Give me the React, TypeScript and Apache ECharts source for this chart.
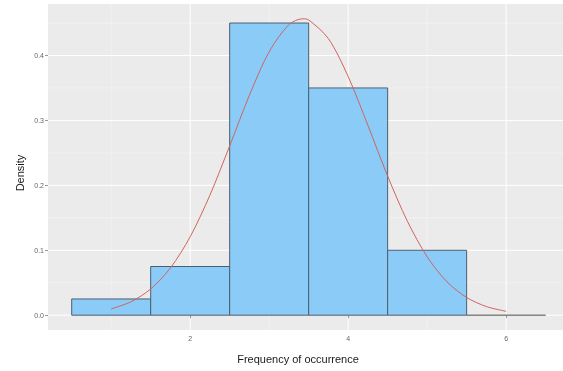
import React, { useEffect, useRef } from "react";
import * as echarts from "echarts";

// Histogram bins (left edge, right edge) and density per bin
const binStart = [0.5, 1.5, 2.5, 3.5, 4.5, 5.5];
const binEnd = [1.5, 2.5, 3.5, 4.5, 5.5, 6.5];
const binDensity = [0.025, 0.075, 0.45, 0.35, 0.1, 0];

// Fitted normal density curve
const curveX = [1, 1.25, 1.5, 1.75, 2, 2.25, 2.5, 2.75, 3, 3.25, 3.425, 3.5, 3.75, 4, 4.25, 4.5, 4.75, 5, 5.25, 5.5, 5.75, 6];
const curveY = [0.0097, 0.0206, 0.0404, 0.0728, 0.1208, 0.1849, 0.2607, 0.3388, 0.4056, 0.4474, 0.4565, 0.4548, 0.426, 0.3676, 0.2924, 0.2142, 0.1447, 0.09, 0.0516, 0.0273, 0.0133, 0.006];

// Axis breaks
const xMajor = [2, 4, 6];
const xMinor = [1, 3, 5];
const yMajor = [0, 0.1, 0.2, 0.3, 0.4];
const yMinor = [0.05, 0.15, 0.25, 0.35, 0.45];

const FONT = "Liberation Sans, Arial, sans-serif";

export default function App() {
  const ref = useRef<HTMLDivElement>(null);

  useEffect(() => {
    if (!ref.current) return;
    const chart = echarts.init(ref.current, undefined, { renderer: "svg" });

    const bins = binStart.map((s, i) => [s, binEnd[i], binDensity[i]]);
    const curve = curveX.map((x, i) => [x, curveY[i]]);

    chart.setOption({
      animation: false,
      grid: {
        left: 48,
        top: 4,
        right: 0,
        height: 326,
        show: true,
        backgroundColor: "#EBEBEB",
        borderWidth: 0,
      },
      xAxis: {
        type: "value",
        min: 0.2,
        max: 6.72,
        axisLine: { show: false },
        splitLine: { show: false },
        axisTick: { show: true, customValues: xMajor, length: 3, lineStyle: { color: "#555", width: 0.6 } },
        axisLabel: {
          customValues: xMajor,
          fontSize: 7,
          color: "#666",
          margin: 5,
          fontFamily: FONT,
        },
      },
      yAxis: {
        type: "value",
        min: -0.0228,
        max: 0.4793,
        axisLine: { show: false },
        splitLine: { show: false },
        axisTick: { show: true, customValues: yMajor, length: 3, lineStyle: { color: "#555", width: 0.6 } },
        axisLabel: {
          customValues: yMajor,
          fontSize: 7,
          color: "#666",
          margin: 4,
          fontFamily: FONT,
          formatter: (v: number) => v.toFixed(1),
        },
      },
      graphic: [
        {
          type: "text",
          x: 20,
          y: 173,
          rotation: Math.PI / 2,
          style: {
            text: "Density",
            fontSize: 11,
            fontFamily: FONT,
            fill: "#1a1a1a",
            align: "center",
            verticalAlign: "middle",
          },
        },
        {
          type: "text",
          x: 298,
          y: 359,
          style: {
            text: "Frequency of occurrence",
            fontSize: 11,
            fontFamily: FONT,
            fill: "#1a1a1a",
            align: "center",
            verticalAlign: "middle",
          },
        },
      ],
      series: [
        {
          // panel grid lines
          type: "custom",
          silent: true,
          z: 0,
          data: [[0]],
          renderItem: (params: any, api: any) => {
            const cs = params.coordSys;
            const children: any[] = [];
            xMinor.forEach((v) => {
              const px = api.coord([v, 0])[0];
              children.push({ type: "line", shape: { x1: px, y1: cs.y, x2: px, y2: cs.y + cs.height }, style: { stroke: "#F6F6F6", lineWidth: 0.6 } });
            });
            yMinor.forEach((v) => {
              const py = api.coord([0, v])[1];
              children.push({ type: "line", shape: { x1: cs.x, y1: py, x2: cs.x + cs.width, y2: py }, style: { stroke: "#F6F6F6", lineWidth: 0.6 } });
            });
            xMajor.forEach((v) => {
              const px = api.coord([v, 0])[0];
              children.push({ type: "line", shape: { x1: px, y1: cs.y, x2: px, y2: cs.y + cs.height }, style: { stroke: "#FFFFFF", lineWidth: 1 } });
            });
            yMajor.forEach((v) => {
              const py = api.coord([0, v])[1];
              children.push({ type: "line", shape: { x1: cs.x, y1: py, x2: cs.x + cs.width, y2: py }, style: { stroke: "#FFFFFF", lineWidth: 1 } });
            });
            return { type: "group", children };
          },
        },
        {
          // histogram bars
          type: "custom",
          z: 2,
          data: bins,
          encode: { x: [0, 1], y: 2 },
          renderItem: (params: any, api: any) => {
            const x0 = api.value(0);
            const x1 = api.value(1);
            const d = api.value(2);
            const p0 = api.coord([x0, d]);
            const p1 = api.coord([x1, 0]);
            return {
              type: "rect",
              shape: { x: p0[0], y: p0[1], width: p1[0] - p0[0], height: p1[1] - p0[1] },
              style: {
                fill: d > 0 ? "#8BCBF7" : "none",
                stroke: d > 0 ? "#4E5E70" : "#7A7A7A",
                lineWidth: 1,
              },
            };
          },
        },
        {
          type: "line",
          z: 3,
          data: curve,
          smooth: 0.3,
          showSymbol: false,
          symbol: "none",
          lineStyle: { color: "#D0645E", width: 1 },
        },
      ],
    });

    return () => chart.dispose();
  }, []);

  return (
    <div
      ref={ref}
      style={{ position: "fixed", left: 0, top: 0, width: 563, height: 371, overflow: "hidden" }}
    />
  );
}
